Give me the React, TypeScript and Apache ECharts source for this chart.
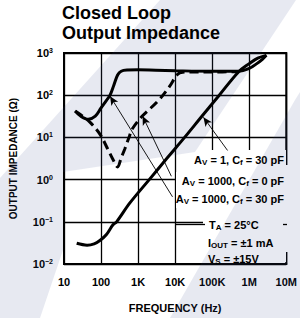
import React, { useEffect, useRef } from 'react';
import * as echarts from 'echarts';

// ---- data (frequency in Hz, impedance in ohms) ----
const av1000cf30Freq = [20, 28, 45, 70, 100, 140, 175, 220, 280, 350, 500, 1000, 3000, 10000, 100000, 500000, 1000000, 1600000, 2300000, 2900000];
const av1000cf30Z = [42, 32, 27, 32, 50, 75, 100, 170, 300, 370, 395, 400, 390, 380, 370, 370, 430, 560, 720, 880];

const av1000cf0Freq = [20, 30, 50, 93, 150, 210, 280, 350, 440, 590, 700, 1300, 3400, 7000, 11500, 16000, 30000, 100000, 500000];
const av1000cf0Z = [42, 33, 23, 12, 5.4, 3.0, 2.0, 3.3, 5.4, 11, 16, 32, 72, 160, 310, 350, 355, 355, 360];

const av1cf30Freq = [22, 42, 65, 93, 140, 210, 263, 600, 2000, 6000, 18000, 50000, 155000, 520000, 1000000, 1700000, 2900000];
const av1cf30Z = [0.031, 0.028, 0.03, 0.036, 0.05, 0.085, 0.1, 0.28, 1.0, 3.2, 10, 30, 100, 360, 560, 760, 880];

const xTickLabels = ['10', '100', '1K', '10K', '100K', '1M', '10M'];
const yTickExponents = ['−2', '−1', '0', '1', '2', '3'];

// arrow annotations: [start freq, start Z, tip freq, tip Z]
const arrowAv1 = [260000, 4.9, 58000, 30];
const arrowCf0 = [7900, 1.2, 1320, 32];
const arrowCf30 = [8500, 0.39, 175, 95];

const zip = (a: number[], b: number[]) => a.map((v, i) => [v, b[i]]);

const NARROW = "'Liberation Sans Narrow', 'Liberation Sans', Arial, sans-serif";
const TINT = 'rgba(60,70,140,0.12)';

export default function App() {
  const ref = useRef<HTMLDivElement>(null);
  useEffect(() => {
    if (!ref.current) return;
    const chart = echarts.init(ref.current, undefined, { renderer: 'svg' });
    const textBase = { fontFamily: NARROW, fontWeight: 'bold', fill: '#000' };
    const main = { fontSize: 11, fontWeight: 'bold', fontFamily: NARROW, color: '#000', lineHeight: 13 };
    const sub = { fontSize: 8, fontWeight: 'bold', fontFamily: NARROW, color: '#000', padding: [5, 0, 0, 0], lineHeight: 13 };
    const rich = { m: main, s: sub };
    const arrowLine = (a: number[]) => [
      { coord: [a[0], a[1]], symbol: 'none' },
      { coord: [a[2], a[3]], symbol: 'arrow' },
    ];
    chart.setOption({
      animation: false,
      backgroundColor: '#fff',
      grid: { left: 64, top: 53, width: 223, height: 214, show: true, borderColor: '#000', borderWidth: 2, backgroundColor: 'transparent' },
      xAxis: {
        type: 'log', logBase: 10, min: 10, max: 10000000,
        name: 'FREQUENCY (Hz)', nameLocation: 'middle', nameGap: 38,
        nameTextStyle: { fontFamily: NARROW, fontWeight: 'bold', fontSize: 11, color: '#000' },
        axisLine: { show: true, lineStyle: { color: '#000', width: 2 } },
        axisTick: { show: false },
        splitLine: { show: true, lineStyle: { color: '#000', width: 1.3 } },
        axisLabel: {
          margin: 12, color: '#000', fontFamily: NARROW, fontWeight: 'bold', fontSize: 11,
          formatter: (v: number) => xTickLabels[Math.round(Math.log10(v)) - 1] ?? '',
        },
      },
      yAxis: {
        type: 'log', logBase: 10, min: 0.01, max: 1000,
        name: 'OUTPUT IMPEDANCE (Ω)', nameLocation: 'middle', nameGap: 46,
        nameTextStyle: { fontFamily: NARROW, fontWeight: 'bold', fontSize: 10, color: '#000' },
        axisLine: { show: true, lineStyle: { color: '#000', width: 2 } },
        axisTick: { show: false },
        splitLine: { show: true, lineStyle: { color: '#000', width: 1.3 } },
        axisLabel: {
          margin: 11, color: '#000',
          formatter: (v: number) => `{b|10}{p|${yTickExponents[Math.round(Math.log10(v)) + 2]}}`,
          rich: {
            b: { fontFamily: NARROW, fontWeight: 'bold', fontSize: 11, color: '#000', lineHeight: 13 },
            p: { fontFamily: NARROW, fontWeight: 'bold', fontSize: 7, color: '#000', padding: [0, 0, 5, 0], lineHeight: 13 },
          },
        },
      },
      series: [
        {
          type: 'line', data: zip(av1000cf30Freq, av1000cf30Z), smooth: 0.35, showSymbol: false,
          lineStyle: { color: '#000', width: 3 },
          markLine: {
            silent: true, symbolSize: [6, 9], label: { show: false },
            lineStyle: { color: '#000', width: 0.9, type: 'solid' },
            data: [arrowLine(arrowAv1), arrowLine(arrowCf0), arrowLine(arrowCf30)],
          },
        },
        {
          type: 'line', data: zip(av1000cf0Freq, av1000cf0Z), smooth: 0.35, showSymbol: false,
          lineStyle: { color: '#000', width: 3, type: [9, 5] },
        },
        {
          type: 'line', data: zip(av1cf30Freq, av1cf30Z), smooth: 0.35, showSymbol: false,
          lineStyle: { color: '#000', width: 3 },
        },
      ],
      graphic: [
        {
          type: 'polygon', z: 1, silent: true,
          shape: { points: [[200, 150], [286, 150], [286, 165], [291, 165], [291, 252], [286, 252], [286, 262], [206, 262], [206, 230], [203, 230], [203, 208], [176, 208], [176, 172], [200, 172]] },
          style: { fill: '#fff' },
        },
        // faint scan watermark bands
        { type: 'polygon', z: 1.5, silent: true, shape: { points: [[160, 0], [296, 0], [195, 152], [63, 172], [63, 250], [40, 318], [0, 318], [0, 178]] }, style: { fill: TINT } },
        { type: 'polygon', z: 1.5, silent: true, shape: { points: [[295, 100], [300, 92], [300, 318], [170, 318]] }, style: { fill: TINT } },
        { type: 'text', z: 10, left: 62, top: 4, style: { text: 'Closed Loop', font: "bold 18px 'Liberation Sans', Arial, sans-serif", fill: '#000' } },
        { type: 'text', z: 10, left: 62, top: 24, style: { text: 'Output Impedance', font: "bold 18px 'Liberation Sans', Arial, sans-serif", fill: '#000' } },
        { type: 'text', z: 10, x: 284, y: 160, style: { ...textBase, text: '{m|A}{s|V}{m| = 1, C}{s|f}{m| = 30 pF}', rich, align: 'right', verticalAlign: 'middle' } },
        { type: 'text', z: 10, x: 284, y: 181, style: { ...textBase, text: '{m|A}{s|V}{m| = 1000, C}{s|f}{m| = 0 pF}', rich, align: 'right', verticalAlign: 'middle' } },
        { type: 'text', z: 10, x: 284, y: 199, style: { ...textBase, text: '{m|A}{s|V}{m| = 1000, C}{s|f}{m| = 30 pF}', rich, align: 'right', verticalAlign: 'middle' } },
        { type: 'line', z: 10, shape: { x1: 176, y1: 224.5, x2: 205, y2: 224.5 }, style: { stroke: '#000', lineWidth: 1.3 } },
        { type: 'line', z: 10, shape: { x1: 283, y1: 224.5, x2: 287, y2: 224.5 }, style: { stroke: '#000', lineWidth: 1.3 } },
        { type: 'text', z: 10, x: 209, y: 225, style: { ...textBase, text: '{m|T}{s|A}{m| = 25°C}', rich, align: 'left', verticalAlign: 'middle' } },
        { type: 'text', z: 10, x: 208, y: 243, style: { ...textBase, text: '{m|I}{s|OUT}{m| = ±1 mA}', rich, align: 'left', verticalAlign: 'middle' } },
        { type: 'text', z: 10, x: 208, y: 259, style: { ...textBase, text: '{m|V}{s|S}{m| = ±15V}', rich, align: 'left', verticalAlign: 'middle' } },
      ],
    });
    return () => chart.dispose();
  }, []);
  return <div ref={ref} style={{ position: 'absolute', left: 0, top: 0, width: 300, height: 318 }} />;
}
